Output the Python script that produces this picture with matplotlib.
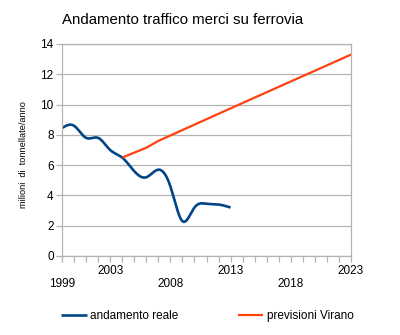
import numpy as np
import matplotlib
matplotlib.use("Agg")
import matplotlib.pyplot as plt

plt.rcParams['font.family'] = ['Liberation Sans', 'DejaVu Sans']

# andamento reale (milioni di tonnellate/anno)
anni_reali = [1999, 2000, 2001, 2002, 2003, 2004, 2005, 2006, 2007,
              2008, 2009, 2010, 2011, 2012, 2013]
reale = [8.45, 8.6, 7.8, 7.8, 7.0, 6.5, 5.6, 5.2, 5.7,
         4.6, 2.3, 3.2, 3.45, 3.4, 3.2]

# previsioni Virano
anni_prev = [2004, 2006, 2007, 2013, 2023]
previsioni = [6.5, 7.15, 7.6, 9.75, 13.3]

tick_years = [1999, 2003, 2008, 2013, 2018, 2023]
upper_row = [2003, 2013, 2023]

blue = '#004586'
orange = '#ff420e'
grid_col = '#b3b3b3'


def natural_spline(x, y, n=400):
    # cubic spline smoothing, like the "smooth line" of the original sheet
    x = np.asarray(x, float)
    y = np.asarray(y, float)
    k = len(x)
    h = np.diff(x)
    A = np.zeros((k, k))
    b = np.zeros(k)
    A[0, 0] = A[-1, -1] = 1
    for i in range(1, k - 1):
        A[i, i - 1] = h[i - 1]
        A[i, i] = 2 * (h[i - 1] + h[i])
        A[i, i + 1] = h[i]
        b[i] = 6 * ((y[i + 1] - y[i]) / h[i] - (y[i] - y[i - 1]) / h[i - 1])
    M = np.linalg.solve(A, b)
    xs = np.linspace(x[0], x[-1], n)
    idx = np.clip(np.searchsorted(x, xs) - 1, 0, k - 2)
    x0, x1 = x[idx], x[idx + 1]
    hh = x1 - x0
    t0, t1 = x1 - xs, xs - x0
    ys = (M[idx] * t0 ** 3 + M[idx + 1] * t1 ** 3) / (6 * hh) \
        + (y[idx] / hh - M[idx] * hh / 6) * t0 \
        + (y[idx + 1] / hh - M[idx + 1] * hh / 6) * t1
    return xs, ys


fig = plt.figure(figsize=(4.0, 3.35), dpi=100)
ax = fig.add_axes([62 / 400, 1 - 256 / 335, 289 / 400, 212 / 335])

xs, ys = natural_spline(anni_reali, reale)
ax.plot(xs, ys, color=blue, lw=1.9, label='andamento reale', solid_capstyle='butt')
ax.plot(anni_prev, previsioni, color=orange, lw=1.6, label='previsioni Virano',
        solid_capstyle='butt')

ax.set_xlim(1999, 2023)
ax.set_ylim(0, 14)
ax.set_yticks(range(0, 15, 2))
ax.set_xticks(tick_years)
ax.set_xticks(range(1999, 2024), minor=True)
ax.yaxis.grid(True, color=grid_col, lw=0.9)
ax.set_axisbelow(True)

for s in ax.spines.values():
    s.set_color(grid_col)
    s.set_linewidth(0.9)

ax.tick_params(axis='both', which='both', color=grid_col, length=4, width=0.9,
               labelsize=8.5, labelcolor='black')
ax.tick_params(axis='y', pad=2)
for tick, yr in zip(ax.xaxis.get_major_ticks(), tick_years):
    tick.set_pad(2.5 if yr in upper_row else 12)

fig.text(23.5 / 400, 1 - 155 / 335, 'milioni  di  tonnellate/anno', fontsize=6.6,
         rotation=90, ha='center', va='center')

fig.text(62 / 400, 1 - 20 / 335, 'Andamento traffico merci su ferrovia',
         fontsize=10.8, ha='left', va='center')

fig.legend(loc='center left', bbox_to_anchor=(56 / 400, 1 - 316 / 335), ncol=2,
           frameon=False, fontsize=8.5, handlelength=2.2, handletextpad=0.3,
           columnspacing=5.0, borderaxespad=0)

fig.savefig('out.png', dpi=100)
